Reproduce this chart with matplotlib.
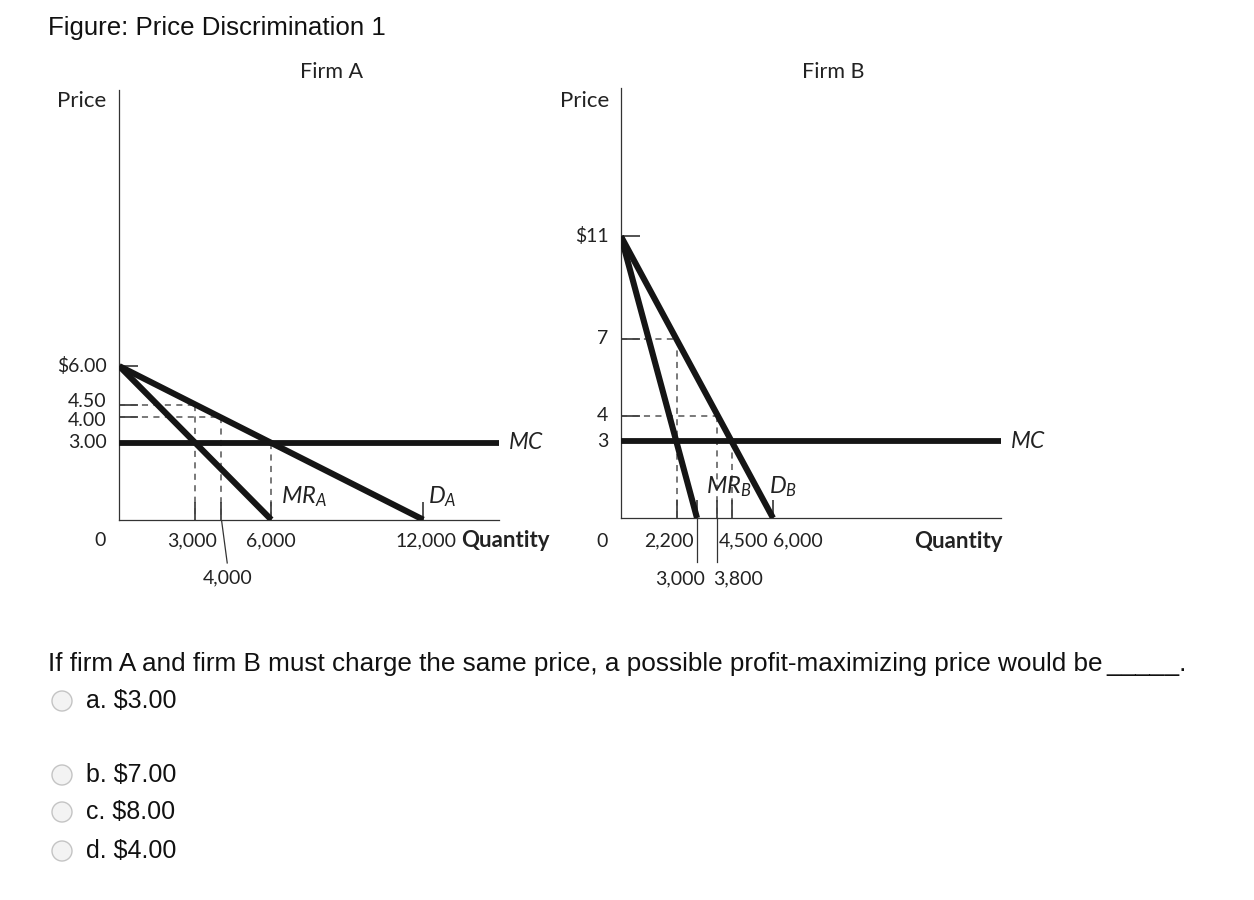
import matplotlib.pyplot as plt
from matplotlib.patches import Circle

# --- chart values ---
# firm A
a_demand_q = [0, 12000]
a_demand_p = [6.0, 0.0]
a_mr_q = [0, 6000]
a_mr_p = [6.0, 0.0]
a_mc = 3.0
a_yticks = [6.0, 4.5, 4.0, 3.0]
a_ytick_labels = ["$6.00", "4.50", "4.00", "3.00"]
a_xticks = [3000, 4000, 6000, 12000]
# dashed guides: (q0, p0, q1, p1)
a_guides = [(0, 4.5, 3000, 4.5), (3000, 4.5, 3000, 0),
            (0, 4.0, 4000, 4.0), (4000, 4.0, 4000, 0),
            (6000, 3.0, 6000, 0)]

# firm B
b_demand_q = [0, 6000]
b_demand_p = [11.0, 0.0]
b_mr_q = [0, 3000]
b_mr_p = [11.0, 0.0]
b_mc = 3.0
b_yticks = [11, 7, 4, 3]
b_ytick_labels = ["$11", "7", "4", "3"]
b_xticks = [2200, 3000, 3800, 4364, 6000]
b_guides = [(0, 7, 2200, 7), (2200, 7, 2200, 0),
            (0, 4, 3800, 4), (3800, 4, 3800, 0),
            (4364, 3, 4364, 0)]

question = "If firm A and firm B must charge the same price, a possible profit-maximizing price would be"
options = ["a. $3.00", "b. $7.00", "c. $8.00", "d. $4.00"]

W, H = 1254, 900
plt.rcParams['mathtext.fontset'] = 'custom'
plt.rcParams['mathtext.it'] = 'Lato:italic'
plt.rcParams['mathtext.rm'] = 'Lato'

fig = plt.figure(figsize=(W / 100, H / 100), dpi=100)

LBL = dict(family='Lato', fontsize=14, color='#222222')
INK = '#151515'
GUIDE = '#555555'


def fx(px):
    return px / W


def fy(py):
    return 1 - py / H


def make_axes(left, bottom):
    # same price/quantity scale on both panels
    ax = fig.add_axes([fx(left), fy(bottom), 380 / W, 430 / H])
    ax.set_xlim(0, 15000)
    ax.set_ylim(0, 16.8)
    for s in ['top', 'right']:
        ax.spines[s].set_visible(False)
    for s in ['left', 'bottom']:
        ax.spines[s].set_linewidth(0.9)
        ax.spines[s].set_color('#333333')
    ax.tick_params(axis='y', direction='in', length=14, width=1.3, color='#444444',
                   labelleft=False)
    ax.tick_params(axis='x', direction='in', length=13, width=1.3, color='#444444',
                   labelbottom=False)
    return ax


def price_labels(ax, values, labels, nudges):
    for v, lab, dy in zip(values, labels, nudges):
        ax.annotate(lab, xy=(0, v), xytext=(-9, dy), textcoords='offset points',
                    ha='right', va='center', annotation_clip=False, **LBL)


def draw_guides(ax, guides):
    for q0, p0, q1, p1 in guides:
        ax.plot([q0, q1], [p0, p1], color=GUIDE, lw=1.1, ls=(0, (4, 3.5)), zorder=1)


# ---------- Firm A ----------
axA = make_axes(119.3, 519.7)
axA.set_yticks(a_yticks)
axA.set_xticks(a_xticks)
price_labels(axA, a_yticks, a_ytick_labels, [0, 2.2, -2.2, 0])
draw_guides(axA, a_guides)
axA.plot(a_demand_q, a_demand_p, color=INK, lw=4.4, solid_capstyle='butt', zorder=3)
axA.plot(a_mr_q, a_mr_p, color=INK, lw=4.4, solid_capstyle='butt', zorder=3)
axA.axhline(a_mc, color=INK, lw=4.2, zorder=3)

axA.text(-760, -0.83, "0", ha='center', va='center', **LBL)
axA.text(2870, -0.83, "3,000", ha='center', va='center', **LBL)
axA.text(6000, -0.83, "6,000", ha='center', va='center', **LBL)
axA.text(4290, -2.27, "4,000", ha='center', va='center', **LBL)
axA.plot([4040, 4260], [-0.05, -1.69], color='#333333', lw=0.9, clip_on=False)
axA.text(12100, -0.83, "12,000", ha='center', va='center', **LBL)
axA.text(13480, -0.83, "Quantity", ha='left', va='center', family='Lato',
         fontsize=16, fontweight='bold', color='#222222')
axA.text(6380, 0.89, "$MR_A$", ha='left', va='center', fontsize=17, color='#222222')
axA.text(12190, 0.89, "$D_A$", ha='left', va='center', fontsize=17, color='#222222')
axA.text(15330, 3.0, "$MC$", ha='left', va='center', fontsize=16.5, color='#222222')

# ---------- Firm B ----------
axB = make_axes(621, 518)
axB.set_yticks(b_yticks)
axB.set_xticks(b_xticks)
price_labels(axB, b_yticks, b_ytick_labels, [0, 0, 0, 0])
draw_guides(axB, b_guides)
axB.plot(b_demand_q, b_demand_p, color=INK, lw=4.4, solid_capstyle='butt', zorder=3)
axB.plot(b_mr_q, b_mr_p, color=INK, lw=4.4, solid_capstyle='butt', zorder=3)
axB.axhline(b_mc, color=INK, lw=4.2, zorder=3)

axB.text(-750, -0.9, "0", ha='center', va='center', **LBL)
axB.text(1900, -0.9, "2,200", ha='center', va='center', **LBL)
axB.text(4860, -0.9, "4,500", ha='center', va='center', **LBL)
axB.text(7000, -0.9, "6,000", ha='center', va='center', **LBL)
axB.text(2330, -2.36, "3,000", ha='center', va='center', **LBL)
axB.text(4620, -2.36, "3,800", ha='center', va='center', **LBL)
for q in [3000, 3800]:
    axB.plot([q, q], [0, -1.72], color='#333333', lw=0.9, clip_on=False)
axB.text(15070, -0.9, "Quantity", ha='right', va='center', family='Lato',
         fontsize=16, fontweight='bold', color='#222222')
axB.text(3350, 1.22, "$MR_B$", ha='left', va='center', fontsize=17, color='#222222')
axB.text(5850, 1.22, "$D_B$", ha='left', va='center', fontsize=17, color='#222222')
axB.text(15370, 3.0, "$MC$", ha='left', va='center', fontsize=16.5, color='#222222')

# ---------- headings ----------
fig.text(fx(48), fy(28), "Figure: Price Discrimination 1", ha='left', va='center',
         family='Liberation Sans', fontsize=18.6, color='#111111')
fig.text(fx(331), fy(72), "Firm A", ha='center', va='center', family='Lato',
         fontsize=15.5, color='#222222')
fig.text(fx(833), fy(72), "Firm B", ha='center', va='center', family='Lato',
         fontsize=15.5, color='#222222')
fig.text(fx(82), fy(101), "Price", ha='center', va='center', family='Lato',
         fontsize=16, color='#222222')
fig.text(fx(585), fy(101), "Price", ha='center', va='center', family='Lato',
         fontsize=16, color='#222222')

# ---------- question ----------
fig.text(fx(48), fy(664), question, ha='left', va='center',
         family='Liberation Sans', fontsize=18.8, color='#111111')
fig.text(fx(1106), fy(664), "_____.", ha='left', va='center',
         family='Liberation Sans', fontsize=18.8, color='#111111')

overlay = fig.add_axes([0, 0, 1, 1], zorder=-1)
overlay.set_xlim(0, W)
overlay.set_ylim(H, 0)
overlay.axis('off')
opt_y = [701, 775, 812, 851]
for label, yy in zip(options, opt_y):
    overlay.add_patch(Circle((62, yy), 10, facecolor='#f3f3f3', edgecolor='#c4c4c4', lw=1))
    overlay.text(86, yy, label, ha='left', va='center', family='Liberation Sans',
                 fontsize=18, color='#111111')

fig.savefig("out.png", dpi=100, facecolor='white')
